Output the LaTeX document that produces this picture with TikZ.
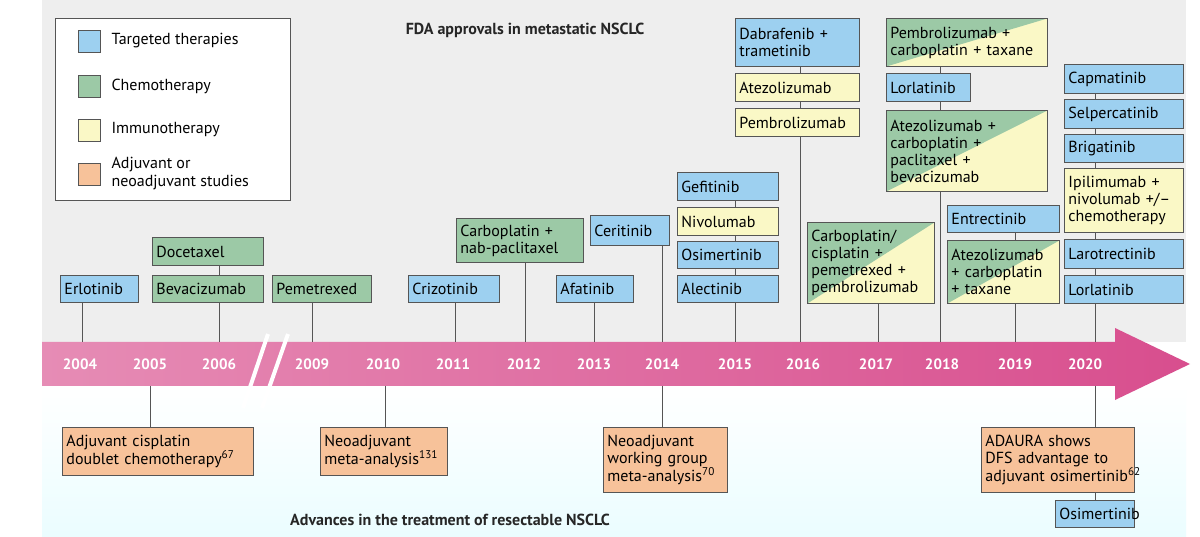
\documentclass[tikz,border=0pt]{standalone}
\usepackage{fontspec}
\setmainfont{PT Sans}
\usetikzlibrary{backgrounds}
\definecolor{tblue}{HTML}{9DD0F0}
\definecolor{tgreen}{HTML}{9CC9A6}
\definecolor{tyel}{HTML}{FAF8C6}
\definecolor{torange}{HTML}{F7C29A}
\definecolor{tline}{HTML}{555555}
\definecolor{pinkL}{HTML}{E68CB5}
\definecolor{pinkR}{HTML}{D84E8E}
\tikzset{
  bx/.style={draw=tline, line width=0.9pt, anchor=north west, inner xsep=4pt, inner ysep=3pt, align=left, font=\fontsize{16}{17}\selectfont},
  diag/.style={bx, fill=tyel, path picture={\fill[tgreen] (path picture bounding box.south west) -- (path picture bounding box.north east) -- (path picture bounding box.north west) -- cycle;}},
  yr/.style={text=white, font=\bfseries\fontsize{15}{15}\selectfont},
  conn/.style={draw=tline, line width=0.9pt},
  ttl/.style={font=\bfseries\fontsize{16}{16}\selectfont, text=black!85},
  legt/.style={anchor=west, align=left, font=\fontsize{16}{18}\selectfont}
}
\newcommand{\mybox}[7]{\node[#6, minimum width=#4pt-#2pt, minimum height=#5pt-#3pt, text width=#4pt-#2pt-7pt] (#1) at (#2pt,-#3pt) {#7};}
\begin{document}
\begin{tikzpicture}[x=1pt,y=1pt]
\useasboundingbox (0,0) rectangle (1200,-537);
\begin{scope}[on background layer]
\fill[white] (0,0) rectangle (1200,-537);
\fill[gray!13] (42,0) rectangle (1186,-342);
\shade[top color=white, bottom color=blue!10!cyan!8] (42,-386) rectangle (1186,-537);
\shade[left color=pinkL, right color=pinkR] (42,-342) -- (1115,-342) -- (1115,-328) -- (1190,-364) -- (1115,-400) -- (1115,-386) -- (42,-386) -- cycle;
\draw[white, line width=4pt] (268,-334) -- (243,-408);
\draw[white, line width=4pt] (288,-334) -- (262,-408);
\end{scope}
\foreach \y/\x in {2004/80,2005/150,2006/219,2009/312,2010/383,2011/453,2012/524,2013/594,2014/662,2015/735,2016/803,2017/876,2018/942,2019/1015,2020/1085}
  \node[yr] (y\y) at (\x,-364) {\y};
% legend
\node[draw=tline, line width=0.9pt, fill=white, minimum width=235pt, minimum height=182pt, anchor=north west] (leg) at (55,-18) {};
\foreach \c/\yy/\t in {tblue/30/Targeted therapies, tgreen/75/Chemotherapy, tyel/119/Immunotherapy}{
  \node[draw=tline, line width=0.9pt, fill=\c, minimum width=22pt, minimum height=22pt, anchor=north west] (s\yy) at (78,-\yy) {};
  \node[legt] at (108,-\yy-11) {\t};
}
\node[draw=tline, line width=0.9pt, fill=torange, minimum width=22pt, minimum height=22pt, anchor=north west] (s163) at (78,-163) {};
\node[legt] at (108,-174) {Adjuvant or\\neoadjuvant studies};
\node[ttl] (t1) at (525,-30) {FDA approvals in metastatic NSCLC};
\node[ttl] (t2) at (450,-520) {Advances in the treatment of resectable NSCLC};
% boxes
\mybox{erl}{60}{275}{137}{302}{bx,fill=tblue}{Erlotinib}
\mybox{doc}{152}{237}{262}{265}{bx,fill=tgreen}{Docetaxel}
\mybox{bev}{152}{275}{262}{302}{bx,fill=tgreen}{Bevacizumab}
\mybox{pem}{272}{275}{370}{302}{bx,fill=tgreen}{Pemetrexed}
\mybox{cri}{408}{275}{498}{302}{bx,fill=tblue}{Crizotinib}
\mybox{cnp}{456}{218}{582}{262}{bx,fill=tgreen}{Carboplatin +\\nab-paclitaxel}
\mybox{afa}{556}{275}{632}{302}{bx,fill=tblue}{Afatinib}
\mybox{cer}{590}{215}{668}{245}{bx,fill=tblue}{Ceritinib}
\mybox{gef}{677}{172}{777}{200}{bx,fill=tblue}{Gefitinib}
\mybox{niv}{677}{207}{777}{235}{bx,fill=tyel}{Nivolumab}
\mybox{osi}{677}{241}{777}{268}{bx,fill=tblue}{Osimertinib}
\mybox{ale}{677}{275}{777}{302}{bx,fill=tblue}{Alectinib}
\mybox{dab}{735}{18}{858}{66}{bx,fill=tblue}{Dabrafenib +\\trametinib}
\mybox{ate}{735}{73}{858}{101}{bx,fill=tyel}{Atezolizumab}
\mybox{pbr}{735}{108}{858}{136}{bx,fill=tyel}{Pembrolizumab}
\mybox{ccp}{807}{222}{933}{303}{diag}{Carboplatin/\\cisplatin +\\pemetrexed +\\pembrolizumab}
\mybox{pct}{886}{18}{1046}{66}{diag}{Pembrolizumab +\\carboplatin + taxane}
\mybox{lor}{886}{73}{969}{101}{bx,fill=tblue}{Lorlatinib}
\mybox{acp}{886}{110}{1046}{191}{diag}{Atezolizumab +\\carboplatin +\\paclitaxel +\\bevacizumab}
\mybox{ent}{947}{205}{1058}{232}{bx,fill=tblue}{Entrectinib}
\mybox{act}{947}{240}{1058}{303}{diag}{Atezolizumab\\+ carboplatin\\+ taxane}
\mybox{cap}{1064}{64}{1182}{93}{bx,fill=tblue}{Capmatinib}
\mybox{sel}{1064}{99}{1182}{128}{bx,fill=tblue}{Selpercatinib}
\mybox{bri}{1064}{134}{1182}{162}{bx,fill=tblue}{Brigatinib}
\mybox{ipi}{1064}{168}{1182}{232}{bx,fill=tyel}{Ipilimumab +\\nivolumab +/--\\chemotherapy}
\mybox{lar}{1064}{239}{1182}{268}{bx,fill=tblue}{Larotrectinib}
\mybox{lo2}{1064}{275}{1182}{303}{bx,fill=tblue}{Lorlatinib}
\mybox{adj}{62}{427}{252}{475}{bx,fill=torange}{Adjuvant cisplatin\\doublet chemotherapy\textsuperscript{67}}
\mybox{neo}{320}{427}{446}{475}{bx,fill=torange}{Neoadjuvant\\meta-analysis\textsuperscript{131}}
\mybox{nwg}{603}{427}{726}{492}{bx,fill=torange}{Neoadjuvant\\working group\\meta-analysis\textsuperscript{70}}
\mybox{ada}{981}{427}{1133}{492}{bx,fill=torange}{ADAURA shows\\DFS advantage to\\\mbox{adjuvant osimertinib\textsuperscript{62}}}
\mybox{osb}{1055}{500}{1133}{527}{bx,fill=tblue}{Osimertinib}
% connectors
\begin{scope}[on background layer]
\foreach \n/\x in {erl/82,bev/219,pem/312,cri/455,cnp/525,afa/594,cer/662,ale/735,pbr/800,ccp/878,acp/940,act/1015,lo2/1095}
  \draw[conn] (\x,0 |- \n.south) -- (\x,-342);
\foreach \n/\x in {doc/219,gef/735,dab/800,pct/940,ent/1015,cap/1095}
  \draw[conn] (\x,0 |- \n.south) -- (\x,-300);
\foreach \n/\x in {adj/150,neo/385,nwg/662,ada/1095}
  \draw[conn] (\x,-386) -- (\x,0 |- \n.north);
\draw[conn] (1095,0 |- ada.south) -- (1095,0 |- osb.north);
\end{scope}
\end{tikzpicture}
\end{document}
